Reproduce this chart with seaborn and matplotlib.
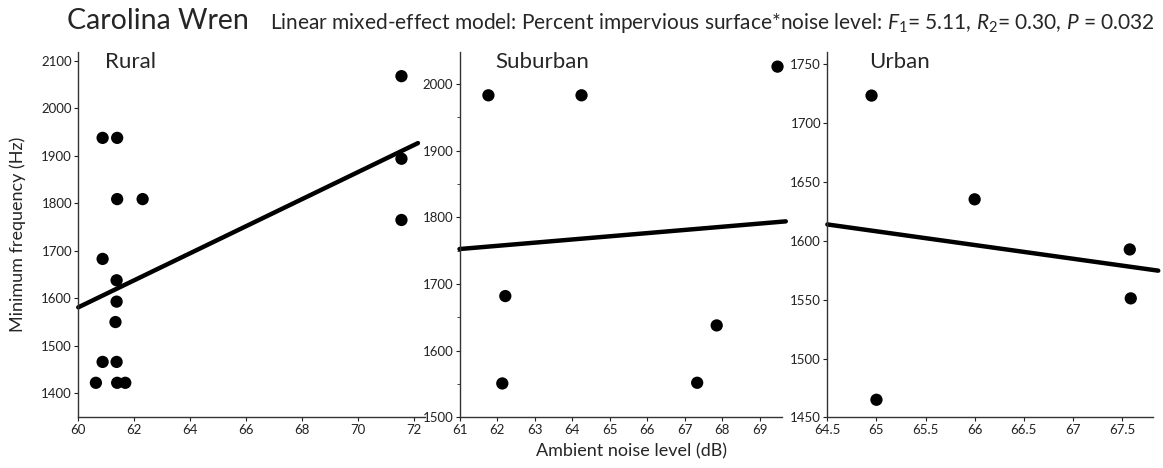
import numpy as np
import pandas as pd
import matplotlib
matplotlib.use("Agg")
import matplotlib.pyplot as plt
import matplotlib.ticker as mticker
import seaborn as sns

# Carolina Wren - minimum frequency vs ambient noise, by habitat
rural_noise = [60.87, 61.39, 60.87, 61.39, 62.30, 61.37, 61.37, 61.33,
               60.87, 61.37, 60.63, 61.39, 61.68, 71.55, 71.55, 71.55]
rural_freq = [1938, 1938, 1683, 1809, 1809, 1638, 1593, 1550,
              1466, 1466, 1422, 1422, 1422, 2068, 1894, 1765]
rural_fit_x = [60.0, 72.14]
rural_fit_y = [1581, 1927]

suburban_noise = [61.77, 64.25, 69.47, 62.22, 62.14, 67.33, 67.85]
suburban_freq = [1983, 1983, 2026, 1682, 1551, 1552, 1638]
suburban_fit_x = [61.0, 69.69]
suburban_fit_y = [1752.5, 1794]

urban_noise = [64.95, 65.0, 66.0, 67.58, 67.59]
urban_freq = [1723, 1465, 1635, 1592.5, 1551]
urban_fit_x = [64.5, 67.87]
urban_fit_y = [1613.7, 1574.5]

sns.set_style("ticks")
plt.rcParams['font.family'] = ['Lato', 'DejaVu Sans']
plt.rcParams['mathtext.fontset'] = 'custom'
plt.rcParams['mathtext.rm'] = 'Lato'
plt.rcParams['mathtext.it'] = 'Lato:italic'

fig = plt.figure(figsize=(11.63, 4.68), dpi=100)
bottom, height = 0.108, 0.781
ax1 = fig.add_axes([0.0673, bottom, 0.2981, height])
ax2 = fig.add_axes([0.3951, bottom, 0.2770, height])
ax3 = fig.add_axes([0.7114, bottom, 0.2803, height])

panels = [
    (ax1, rural_noise, rural_freq, rural_fit_x, rural_fit_y, "Rural", 0.077,
     (60, 72.39), (1349, 2119), np.arange(60, 73, 2), np.arange(1400, 2101, 100)),
    (ax2, suburban_noise, suburban_freq, suburban_fit_x, suburban_fit_y, "Suburban", 0.11,
     (61, 69.58), (1500, 2048), np.arange(61, 70, 1), np.arange(1500, 2001, 100)),
    (ax3, urban_noise, urban_freq, urban_fit_x, urban_fit_y, "Urban", 0.128,
     (64.5, 67.82), (1450, 1760), np.arange(64.5, 67.6, 0.5), np.arange(1450, 1751, 50)),
]

for ax, xs, ys, fx, fy, name, name_x, xlim, ylim, xt, yt in panels:
    sns.scatterplot(x=xs, y=ys, ax=ax, color="black", s=78, edgecolor="none",
                    zorder=3, clip_on=False)
    sns.lineplot(x=fx, y=fy, ax=ax, color="black", linewidth=3.2)
    for ln in ax.lines:
        ln.set_clip_on(False)
    ax.set_xlim(*xlim)
    ax.set_ylim(*ylim)
    ax.set_xticks(xt)
    ax.set_yticks(yt)
    ax.xaxis.set_major_formatter(mticker.FormatStrFormatter('%g'))
    ax.tick_params(direction="out", length=3, width=0.8, labelsize=9.5,
                   colors="#222222", pad=1.5)
    sns.despine(ax=ax)
    for sp in ("left", "bottom"):
        ax.spines[sp].set_linewidth(1.0)
        ax.spines[sp].set_color("#333333")
    ax.text(name_x, 1.0, name, transform=ax.transAxes, fontsize=16,
            va="top", ha="left")

ax2.yaxis.set_minor_locator(mticker.MultipleLocator(50))
ax2.tick_params(which="minor", direction="out", length=2, width=0.6)

fig.text(0.0155, 0.50, "Minimum frequency (Hz)", rotation=90, fontsize=13,
         ha="center", va="center")
fig.text(0.543, 0.035, "Ambient noise level (dB)", fontsize=13,
         ha="center", va="center")

fig.text(0.058, 0.955, "Carolina Wren", fontsize=20.5, ha="left", va="center")
fig.text(0.232, 0.951,
         r"Linear mixed-effect model: Percent impervious surface*noise level: "
         r"$F_{\mathit{1}}$= 5.11, $R_{\mathit{2}}$= 0.30, $P$ = 0.032",
         fontsize=15, ha="left", va="center")

fig.savefig("out.png", dpi=100)
